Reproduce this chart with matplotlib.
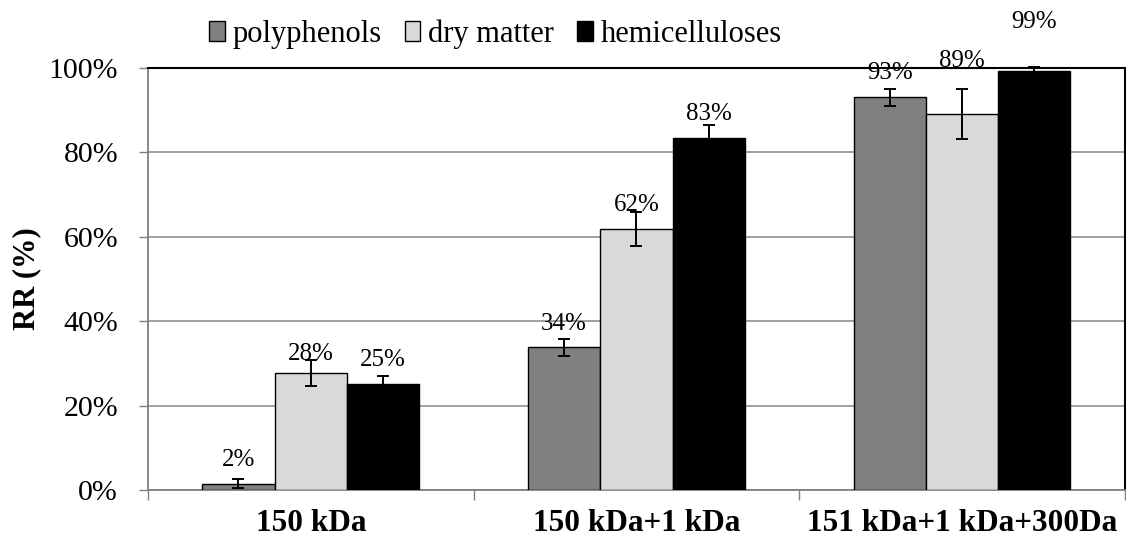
import numpy as np
import matplotlib.pyplot as plt
from matplotlib.ticker import FuncFormatter

plt.rcParams['font.family'] = ['Liberation Serif', 'DejaVu Serif']

groups = ['150 kDa', '150 kDa+1 kDa', '151 kDa+1 kDa+300Da']
series = ['polyphenols', 'dry matter', 'hemicelluloses']
polyphenols = [1.5, 33.8, 93.1]
dry_matter = [27.7, 61.9, 89.1]
hemicelluloses = [25.1, 83.4, 99.3]
poly_err = [1.0, 2.0, 2.0]
dry_err = [3.0, 4.0, 6.0]
hemi_err = [2.0, 3.0, 1.0]
labels = [['2%', '34%', '93%'], ['28%', '62%', '89%'], ['25%', '83%', '99%']]

values = [polyphenols, dry_matter, hemicelluloses]
errors = [poly_err, dry_err, hemi_err]
colors = ['#808080', '#d9d9d9', '#000000']
# label offsets (points above bar top), nudged like the original
offsets = [[17, 17, 17], [14, 17, 38], [17, 17, 35]]

fig = plt.figure(figsize=(11.26, 5.46), dpi=100)
ax = fig.add_axes([0.1314, 0.1026, 0.8676, 0.7729])

x = np.arange(len(groups))
w = 0.222
for i in range(3):
    xs = x + (i - 1) * w
    ax.bar(xs, values[i], w, color=colors[i], edgecolor='black', linewidth=1.0,
           label=series[i], zorder=3)
    ax.errorbar(xs, values[i], yerr=errors[i], fmt='none', ecolor='black',
                elinewidth=1.4, capsize=4.5, capthick=1.4, zorder=4, clip_on=False)
    for j in range(len(groups)):
        ax.annotate(labels[i][j], (xs[j], values[i][j]), xytext=(0, offsets[i][j]),
                    textcoords='offset points', ha='center', va='center',
                    fontsize=18, annotation_clip=False)

ax.set_ylim(0, 100)
ax.set_xlim(-0.5, 2.5)
ax.set_yticks(range(0, 101, 20))
ax.yaxis.set_major_formatter(FuncFormatter(lambda v, p: '%d%%' % v))
ax.yaxis.grid(True, color='#999999', linewidth=1.3, zorder=0)
ax.set_axisbelow(True)
ax.set_xticks(x)
ax.set_xticklabels(groups, fontsize=22.5, fontweight='bold')
ax.set_xticks([-0.5, 0.5, 1.5, 2.5], minor=True)
ax.tick_params(axis='x', which='major', length=0, pad=14)
ax.tick_params(axis='x', which='minor', length=7, color='#808080', width=1)
ax.tick_params(axis='y', labelsize=21.5, length=6.5, color='#808080', width=1, pad=15)
ax.set_ylabel('RR (%)', fontsize=22, fontweight='bold', labelpad=5)

for s in ['left', 'bottom']:
    ax.spines[s].set_color('#808080')
    ax.spines[s].set_linewidth(1.3)
for s in ['top', 'right']:
    ax.spines[s].set_color('black')
    ax.spines[s].set_linewidth(1.5)

fig.legend(loc='upper center', bbox_to_anchor=(0.44, 1.015), ncol=3, frameon=False,
           fontsize=22, handlelength=0.52, handleheight=0.6, handletextpad=0.26,
           columnspacing=0.75)

fig.savefig('out.png', dpi=100)
